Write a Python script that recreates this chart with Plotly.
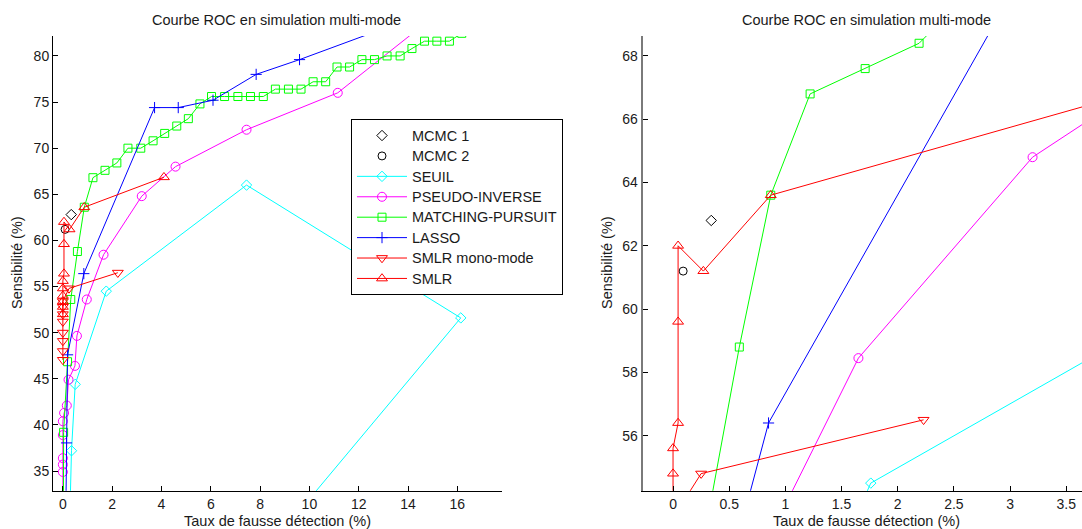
import plotly.graph_objects as go

# ---------------- data (false detection rate %, sensitivity %) ----------------
mcmc1_x = [0.34]
mcmc1_y = [62.8]
mcmc2_x = [0.09]
mcmc2_y = [61.2]

seuil_x = [0, 0.35, 0.50, 1.76, 7.45, 16.14, 0]
seuil_y = [0, 37.2, 44.4, 54.5, 66.0, 51.6, 0]

pinv_x = [0, 0, 0, 0, 0, 0, 0.05, 0.16, 0.23, 0.49, 0.57, 0.97, 1.65, 3.20, 4.57, 7.45, 11.15, 14.4]
pinv_y = [0, 34.9, 35.7, 36.4, 38.9, 40.4, 41.3, 42.1, 44.9, 46.4, 49.65, 53.6, 58.45, 64.8, 68.0, 72.0, 76.0, 82.9]

mp_x = [0, 0.03, 0.19, 0.32, 0.59, 0.87, 1.22, 1.71, 2.19, 2.64, 3.16, 3.66, 4.13, 4.62, 5.09,
        5.56, 6.03, 6.56, 7.10, 7.61, 8.13, 8.62, 9.15, 9.66, 10.15, 10.66, 11.12, 11.63,
        12.13, 12.64, 13.15, 13.68, 14.16, 14.67, 15.17, 15.68, 16.18]
mp_y = [0, 39.2, 46.85, 53.6, 58.8, 63.6, 66.8, 67.6, 68.4, 70.0, 70.0, 70.8, 71.6, 72.4, 73.2,
        74.8, 75.6, 75.6, 75.6, 75.6, 75.6, 76.4, 76.4, 76.4, 77.2, 77.2, 78.8, 78.8,
        79.6, 79.6, 80.0, 80.0, 80.8, 81.6, 81.6, 81.6, 82.45]

lasso_x = [0, 0.15, 0.19, 0.85, 3.72, 4.68, 6.09, 7.84, 9.60, 13.0]
lasso_y = [0, 38.05, 47.6, 56.4, 74.4, 74.4, 75.2, 78.0, 79.6, 82.95]

smlr_mono_x = [0, 0, 0, 0, 0, 0, 0, 0, 0.25, 2.23]
smlr_mono_y = [47.05, 48.0, 49.1, 50.0, 51.2, 52.0, 52.8, 53.4, 54.8, 56.5]

smlr_x = [0, 0, 0, 0, 0, 0, 0.045, 0.045, 0.045, 0.27, 0.87, 4.10]
smlr_y = [52.0, 52.8, 53.4, 54.0, 54.8, 55.6, 56.4, 59.6, 62.0, 61.2, 63.6, 66.85]

title_text = "Courbe ROC en simulation multi-mode"
xlabel = "Taux de fausse détection (%)"
ylabel = "Sensibilité (%)"

left_xticks = [0, 2, 4, 6, 8, 10, 12, 14, 16]
left_yticks = [35, 40, 45, 50, 55, 60, 65, 70, 75, 80]
right_xticks = [0, 0.5, 1, 1.5, 2, 2.5, 3, 3.5]
right_xtext = ["0", "0.5", "1", "1.5", "2", "2.5", "3", "3.5"]
right_yticks = [56, 58, 60, 62, 64, 66, 68]

# ---------------- styling ----------------
W, H = 1082, 529
FONT = "Liberation Sans, Arial, sans-serif"
TXT = "#1a1a1a"

series = [
    dict(name="MCMC 1", x=mcmc1_x, y=mcmc1_y, mode="markers", color="black", symbol="diamond-open", size=8),
    dict(name="MCMC 2", x=mcmc2_x, y=mcmc2_y, mode="markers", color="black", symbol="circle-open", size=8),
    dict(name="SEUIL", x=seuil_x, y=seuil_y, mode="lines+markers", color="#00FFFF", symbol="diamond-open", size=8),
    dict(name="PSEUDO-INVERSE", x=pinv_x, y=pinv_y, mode="lines+markers", color="#FF00FF", symbol="circle-open", size=9),
    dict(name="MATCHING-PURSUIT", x=mp_x, y=mp_y, mode="lines+markers", color="#00FF00", symbol="square-open", size=8),
    dict(name="LASSO", x=lasso_x, y=lasso_y, mode="lines+markers", color="#0000FF", symbol="cross-thin-open", size=8),
    dict(name="SMLR mono-mode", x=smlr_mono_x, y=smlr_mono_y, mode="lines+markers", color="#FF0000", symbol="triangle-down-open", size=9.5),
    dict(name="SMLR", x=smlr_x, y=smlr_y, mode="lines+markers", color="#FF0000", symbol="triangle-up-open", size=9.5),
]

fig = go.Figure()
for axes, show in (("", True), ("2", False)):
    for s in series:
        fig.add_trace(go.Scatter(
            x=s["x"], y=s["y"], mode=s["mode"],
            name='<span style="font-size:14.5px">' + s["name"] + "</span>",
            xaxis="x" + axes, yaxis="y" + axes, showlegend=show,
            line=dict(color=s["color"], width=1),
            marker=dict(symbol=s["symbol"], size=s["size"], color=s["color"],
                        line=dict(color=s["color"], width=1)),
        ))

# pixel geometry -> paper fractions
L_x0, L_x1 = 53, 501.7
R_x0, R_x1 = 642.7, 1082
Y_top, Y_bot = 36, 490.7
ydom = [1 - Y_bot / H, 1 - Y_top / H]

axis_common = dict(showgrid=False, zeroline=False, showline=True, linecolor="black", linewidth=1,
                   ticks="inside", ticklen=5, tickwidth=1, tickcolor="black",
                   tickfont=dict(family=FONT, size=14, color=TXT), mirror=False)

fig.update_layout(
    width=W, height=H,
    margin=dict(l=0, r=0, t=0, b=0),
    paper_bgcolor="white", plot_bgcolor="white",
    font=dict(family=FONT, size=14, color=TXT),
    xaxis=dict(domain=[L_x0 / W, L_x1 / W], range=[-0.4, 17.8], anchor="y",
               tickvals=left_xticks, **axis_common),
    yaxis=dict(domain=ydom, range=[32.87, 82.16], anchor="x",
               tickvals=left_yticks, **axis_common),
    xaxis2=dict(domain=[R_x0 / W, R_x1 / W], range=[-0.27, 3.64], anchor="y2",
                tickvals=right_xticks, ticktext=right_xtext, **axis_common),
    yaxis2=dict(domain=ydom, range=[54.26, 68.63], anchor="x2",
                tickvals=right_yticks, **{**axis_common, "linecolor": "#7a7a7a", "linewidth": 2}),
    legend=dict(x=351 / W, y=1 - 119.3 / H, xanchor="left", yanchor="top",
                bgcolor="white", bordercolor="black", borderwidth=1,
                font=dict(family=FONT, size=13.4, color=TXT), traceorder="normal",
                itemwidth=50, tracegroupgap=0),
    showlegend=True,
)

ann = []
for cx in (276, 866.5):
    ann.append(dict(text=title_text, x=cx / W, y=1 - 20 / H, xref="paper", yref="paper",
                    xanchor="center", yanchor="middle", showarrow=False,
                    font=dict(family=FONT, size=14.5, color=TXT)))
for cx in (277, 866):
    ann.append(dict(text=xlabel, x=cx / W, y=1 - 521 / H, xref="paper", yref="paper",
                    xanchor="center", yanchor="middle", showarrow=False,
                    font=dict(family=FONT, size=14.5, color=TXT)))
for cx in (17, 607):
    ann.append(dict(text=ylabel, x=cx / W, y=1 - 263 / H, xref="paper", yref="paper",
                    xanchor="center", yanchor="middle", showarrow=False, textangle=-90,
                    font=dict(family=FONT, size=14.5, color=TXT)))
fig.update_layout(annotations=ann)

fig.write_html("out.html", config={"displayModeBar": False},
               post_script="document.body.style.margin='0px';document.body.style.overflow='hidden';")
